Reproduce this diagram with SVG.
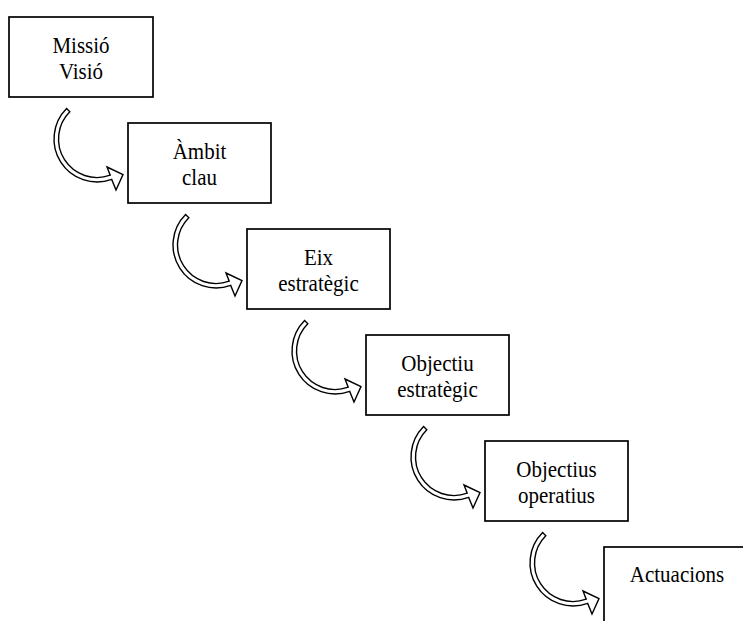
<svg xmlns="http://www.w3.org/2000/svg" width="743" height="621" viewBox="0 0 743 621">
<defs>
<style>
.box{fill:#fff;stroke:#000;stroke-width:1.7}
.t{font-family:"Liberation Serif","Times New Roman",serif;font-size:21px;fill:#000;text-anchor:middle}
.arr{fill:#fff;stroke:#000;stroke-width:1.4;stroke-linejoin:miter}
</style>
<path id="curl" class="arr" d="M69.8,111.8 L66.6,108.6 A43,43 0 0 0 111.7,179.4 L116,190 L123,174.5 L107,167 L110.2,175.2 A38.5,38.5 0 0 1 69.8,111.8 Z"/>
</defs>
<rect width="743" height="621" fill="#fff"/>
<g id="connectors">
<use href="#curl"/>
<use href="#curl" transform="translate(119,106)"/>
<use href="#curl" transform="translate(238,212)"/>
<use href="#curl" transform="translate(357,318)"/>
<use href="#curl" transform="translate(476,424)"/>
</g>
<g id="n1"><rect class="box" x="9" y="17" width="144" height="80"/><text class="t" transform="translate(81,53) scale(1,1.1)">Missió</text><text class="t" transform="translate(81,79) scale(1,1.1)">Visió</text></g>
<g id="n2"><rect class="box" x="128" y="123" width="143" height="80"/><text class="t" transform="translate(199.5,159) scale(1,1.1)">Àmbit</text><text class="t" transform="translate(199.5,185) scale(1,1.1)">clau</text></g>
<g id="n3"><rect class="box" x="247" y="229" width="143" height="80"/><text class="t" transform="translate(318.5,265) scale(1,1.1)">Eix</text><text class="t" transform="translate(318.5,291) scale(1,1.1)">estratègic</text></g>
<g id="n4"><rect class="box" x="366" y="335" width="143" height="80"/><text class="t" transform="translate(437.5,371) scale(1,1.1)">Objectiu</text><text class="t" transform="translate(437.5,397) scale(1,1.1)">estratègic</text></g>
<g id="n5"><rect class="box" x="485" y="441" width="143" height="80"/><text class="t" transform="translate(556.5,477) scale(1,1.1)">Objectius</text><text class="t" transform="translate(556.5,503) scale(1,1.1)">operatius</text></g>
<g id="n6"><rect class="box" x="604" y="547" width="160" height="100"/><text class="t" transform="translate(677,582) scale(1,1.1)">Actuacions</text></g>
</svg>
